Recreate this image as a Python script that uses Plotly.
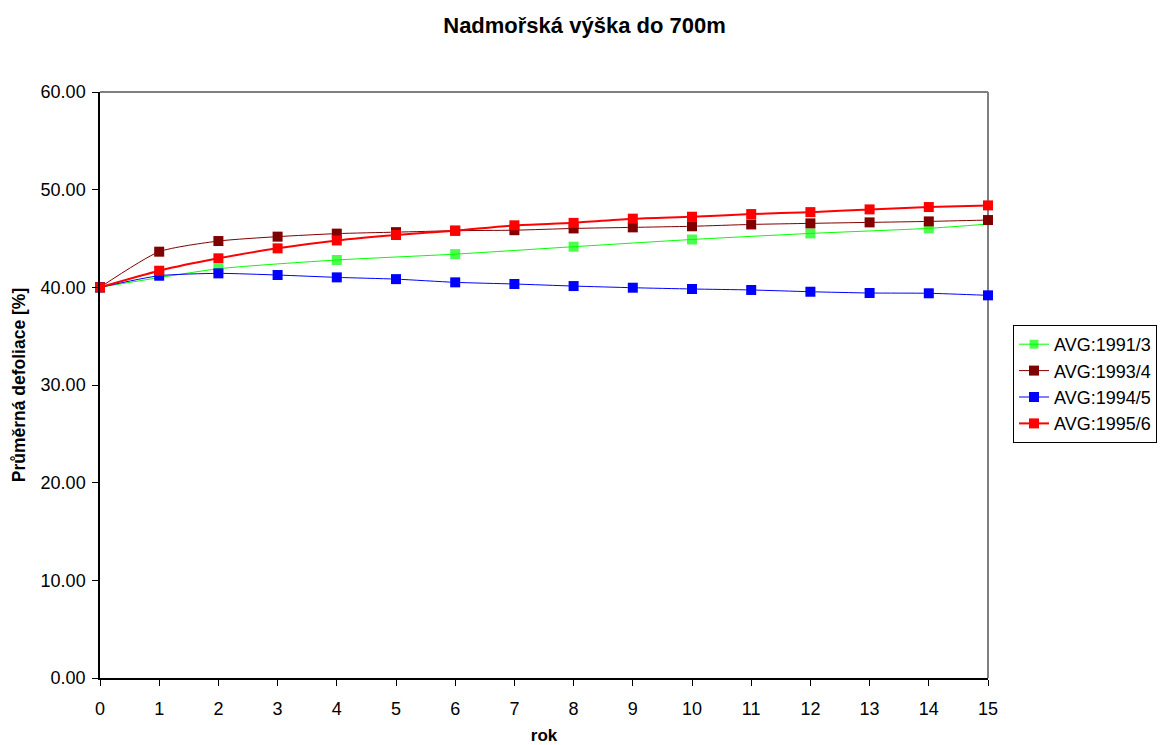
import plotly.graph_objects as go

# Years since start and mean defoliation per cohort
years = list(range(16))

green_years = [0, 2, 4, 6, 8, 10, 12, 14, 15]
avg_1991_3 = [40.0, 41.9, 42.8, 43.4, 44.16, 44.9, 45.52, 46.04, 46.48]

avg_1993_4 = [40.0, 43.65, 44.74, 45.19, 45.5, 45.65, 45.8, 45.85, 46.03, 46.14,
              46.25, 46.44, 46.55, 46.65, 46.75, 46.89]
avg_1994_5 = [40.0, 41.19, 41.43, 41.26, 41.02, 40.84, 40.51, 40.34, 40.13, 39.96,
              39.83, 39.73, 39.55, 39.42, 39.39, 39.18]
avg_1995_6 = [40.0, 41.7, 42.97, 43.99, 44.8, 45.36, 45.8, 46.35, 46.6, 47.03,
              47.23, 47.5, 47.7, 47.98, 48.22, 48.39]

y_ticks = [0, 10, 20, 30, 40, 50, 60]

font_family = "Liberation Sans, Arial, sans-serif"

fig = go.Figure()

# Green cohort: markers on even years only, line runs through to year 15
green_sizes = [10] * (len(green_years) - 1) + [0]
fig.add_trace(go.Scatter(
    x=green_years, y=avg_1991_3, name="AVG:1991/3", mode="lines+markers",
    line=dict(color="#00FF00", width=1, shape="spline", smoothing=0.6),
    marker=dict(symbol="square", size=green_sizes, color="#00FF00", line=dict(width=0)),
    cliponaxis=False,
))
fig.add_trace(go.Scatter(
    x=years, y=avg_1993_4, name="AVG:1993/4", mode="lines+markers",
    line=dict(color="#800000", width=1, shape="spline", smoothing=0.6),
    marker=dict(symbol="square", size=10, color="#800000", line=dict(width=0)),
    cliponaxis=False,
))
fig.add_trace(go.Scatter(
    x=years, y=avg_1994_5, name="AVG:1994/5", mode="lines+markers",
    line=dict(color="#0000FF", width=1, shape="spline", smoothing=0.6),
    marker=dict(symbol="square", size=10, color="#0000FF", line=dict(width=0)),
    cliponaxis=False,
))
fig.add_trace(go.Scatter(
    x=years, y=avg_1995_6, name="AVG:1995/6", mode="lines+markers",
    line=dict(color="#FF0000", width=2, shape="spline", smoothing=0.6),
    marker=dict(symbol="square", size=10, color="#FF0000", line=dict(width=0)),
    cliponaxis=False,
))

# Gray frame on the top and right of the plot area
fig.add_shape(type="line", xref="paper", yref="paper", x0=0, x1=1, y0=1, y1=1,
              line=dict(color="#808080", width=2), layer="below")
fig.add_shape(type="line", xref="paper", yref="paper", x0=1, x1=1, y0=0, y1=1,
              line=dict(color="#808080", width=2), layer="below")

fig.update_layout(
    width=1169, height=745,
    margin=dict(l=100, r=181, t=92, b=67),
    paper_bgcolor="white", plot_bgcolor="white",
    font=dict(family=font_family, size=18, color="black"),
    title=dict(text="<b>Nadmořská výška do 700m</b>", x=0.5, xref="container",
               y=1 - 25 / 745, yref="container", yanchor="middle",
               font=dict(size=22, family=font_family, color="black")),
    xaxis=dict(
        range=[0, 15], tickmode="array", tickvals=years, ticktext=[str(v) for v in years],
        showgrid=False, zeroline=False, showline=True, linecolor="black", linewidth=1.5,
        ticks="outside", ticklen=6, tickcolor="black", ticklabelstandoff=8,
        title=dict(text="<b>rok</b>", standoff=12, font=dict(size=17)),
        tickfont=dict(size=18), automargin=False,
    ),
    yaxis=dict(
        range=[0, 60], tickmode="array", tickvals=y_ticks,
        ticktext=[f"{v:.2f}" for v in y_ticks],
        showgrid=False, zeroline=False, showline=True, linecolor="black", linewidth=1.5,
        ticks="outside", ticklen=6, tickcolor="black", ticklabelstandoff=3,
        title=dict(text="<b>Průměrná defoliace [%]</b>", standoff=10, font=dict(size=17.5)),
        tickfont=dict(size=18), automargin=False,
    ),
    legend=dict(
        x=(1013 - 100) / 888, xanchor="left", y=(678 - 325) / 586, yanchor="top",
        bordercolor="black", borderwidth=1, bgcolor="white",
        font=dict(size=18), tracegroupgap=0, itemwidth=30,
    ),
    showlegend=True,
)

fig.write_html("out.html")
